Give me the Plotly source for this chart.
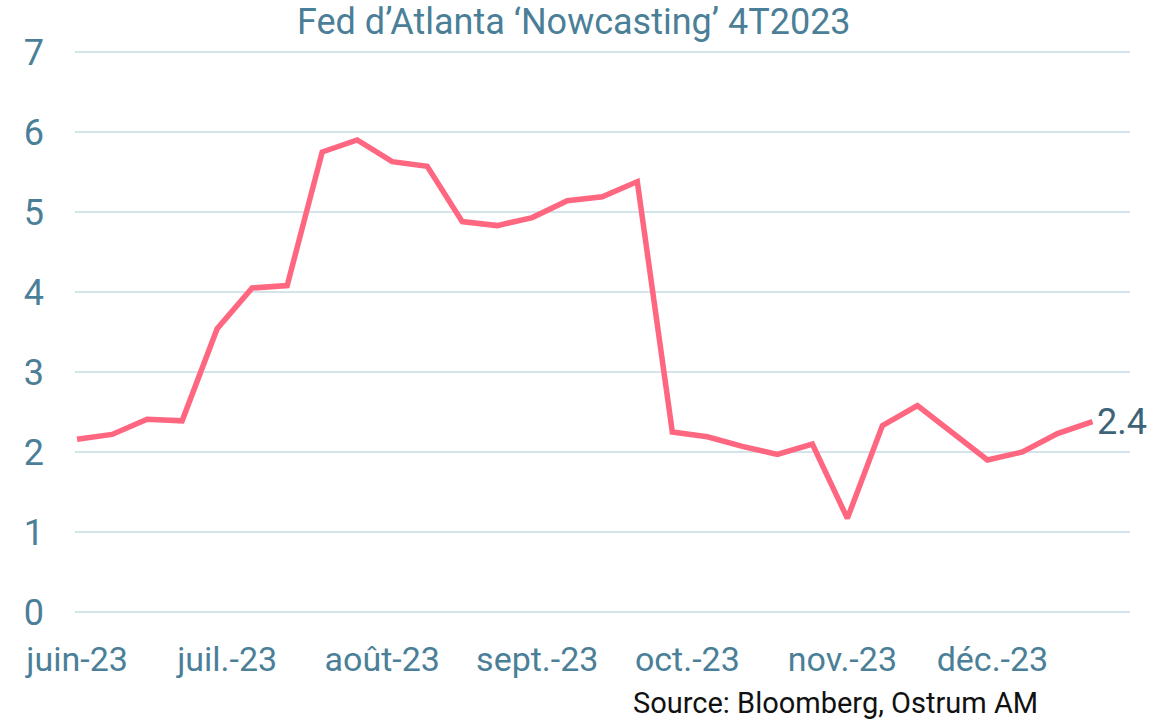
import plotly.graph_objects as go

dates = ["2023-06-01", "2023-06-08", "2023-06-15", "2023-06-22", "2023-06-29",
         "2023-07-06", "2023-07-13", "2023-07-20", "2023-07-27", "2023-08-03",
         "2023-08-10", "2023-08-17", "2023-08-24", "2023-08-31", "2023-09-07",
         "2023-09-14", "2023-09-21", "2023-09-28", "2023-10-05", "2023-10-12",
         "2023-10-19", "2023-10-26", "2023-11-02", "2023-11-09", "2023-11-16",
         "2023-11-23", "2023-11-30", "2023-12-07", "2023-12-14", "2023-12-21"]
nowcast = [2.16, 2.22, 2.41, 2.39, 3.54, 4.05, 4.08, 5.75, 5.90, 5.63,
           5.57, 4.88, 4.83, 4.93, 5.14, 5.19, 5.38, 2.25, 2.19, 2.07,
           1.97, 2.10, 1.17, 2.33, 2.58, 2.25, 1.90, 2.00, 2.23, 2.38]
month_ticks = ["2023-06-01", "2023-07-01", "2023-08-01", "2023-09-01",
               "2023-10-01", "2023-11-01", "2023-12-01"]
month_labels = ["juin-23", "juil.-23", "août-23", "sept.-23", "oct.-23", "nov.-23", "déc.-23"]
y_ticks = [0, 1, 2, 3, 4, 5, 6, 7]

FONT = "Roboto"
BLUE = "#4b7f98"

# plot area: y=7 at px 52, y=0 at px 612 -> 80 px per unit; pad 0.05 unit (4 px)
PAD = 0.05
top_px, bot_px = 52 - 4, 612 + 4
left_px, right_px = 75, 1130
ph = bot_px - top_px
pw = right_px - left_px

fig = go.Figure()
fig.add_trace(go.Scatter(
    x=dates, y=nowcast, mode="lines",
    line=dict(color="#ff6680", width=5.5),
    showlegend=False, hoverinfo="skip",
))
fig.add_annotation(
    x=dates[-1], y=nowcast[-1], text="2.4", showarrow=False,
    xanchor="left", yanchor="middle", xshift=3,
    font=dict(family=FONT, size=36, color="#3d6377"),
)
fig.add_annotation(
    x=(574 - left_px) / pw, y=1 + (top_px - 22) / ph, xref="paper", yref="paper",
    text="Fed d’Atlanta ‘Nowcasting’ 4T2023", showarrow=False,
    xanchor="center", yanchor="middle",
    font=dict(family=FONT, size=36, color=BLUE),
)
fig.add_annotation(
    x=(1040 - left_px) / pw, y=-(703 - bot_px) / ph, xref="paper", yref="paper",
    text="Source: Bloomberg, Ostrum AM", showarrow=False,
    xanchor="right", yanchor="middle",
    font=dict(family=FONT, size=29, color="#111111"),
)

fig.update_layout(
    width=1176, height=721,
    margin=dict(l=left_px, r=1176 - right_px, t=top_px, b=721 - bot_px, pad=0),
    plot_bgcolor="white", paper_bgcolor="white",
    font=dict(family=FONT, color=BLUE),
)
fig.update_xaxes(
    type="date", range=["2023-05-31 14:00", "2023-12-28 12:00"],
    tickmode="array", tickvals=month_ticks, ticktext=month_labels,
    showgrid=False, zeroline=False, showline=False, ticks="",
    tickfont=dict(family=FONT, size=34, color=BLUE),
    ticklabelstandoff=20,
)
fig.update_yaxes(
    range=[-PAD, 7 + PAD], tickmode="array", tickvals=y_ticks,
    showgrid=True, gridcolor="#d5e4eb", gridwidth=2,
    zeroline=False, showline=False, ticks="",
    tickfont=dict(family=FONT, size=36, color=BLUE),
    ticklabelstandoff=30,
)

fig.write_html("out.html")
